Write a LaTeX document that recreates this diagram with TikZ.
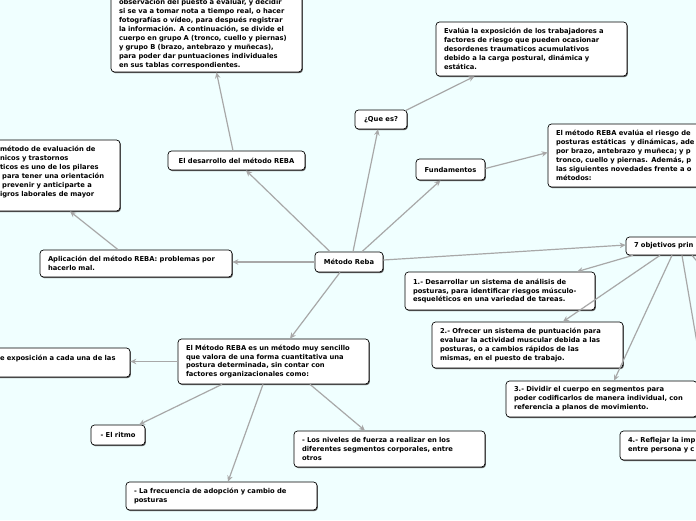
\documentclass[tikz,border=0pt]{standalone}
\usepackage{fontspec}
\setmainfont{DejaVu Sans}
\usetikzlibrary{arrows.meta,shadows}
\definecolor{bgc}{RGB}{240,255,255}
\definecolor{linec}{RGB}{168,168,168}
\newcommand\Lr[1]{\mbox{#1}}
\tikzset{
 box/.style={draw=black, line width=0.7pt, fill=white, rounded corners=3.5pt, inner sep=0pt,
   align=left, font=\fontsize{6.75}{8.9}\selectfont\bfseries,
   drop shadow={shadow xshift=0.9pt, shadow yshift=-1.1pt, fill=black!65, opacity=1}},
 cbox/.style={box, align=center},
 conn/.style={draw=linec, line width=1.2pt, -{Stealth[length=6pt,width=5.5pt]}},
}
\begin{document}
\begin{tikzpicture}[x=1pt,y=-1pt]
\useasboundingbox (0,0) rectangle (696,520);
\clip (0,0) rectangle (696,520);
\fill[bgc] (0,0) rectangle (696,520);

\node[box, minimum width=191pt, minimum height=76pt, text width=175pt] (top) at (206.5,34) {%
\Lr{observación del puesto a evaluar, y decidir}\\
\Lr{si se va a tomar nota a tiempo real, o hacer}\\
\Lr{fotografías o vídeo, para después registrar}\\
\Lr{la información. A continuación, se divide el}\\
\Lr{cuerpo en grupo A (tronco, cuello y piernas)}\\
\Lr{y grupo B (brazo, antebrazo y muñecas),}\\
\Lr{para poder dar puntuaciones individuales}\\
\Lr{en sus tablas correspondientes.}};

\node[box, minimum width=128pt, minimum height=71pt, text width=112pt] (leftb) at (56,175.5) {%
\Lr{método de evaluación de}\\
\Lr{nicos y trastornos}\\
\Lr{ticos es uno de los pilares}\\
\Lr{ para tener una orientación}\\
\Lr{ prevenir y anticiparte a}\\
\Lr{igros laborales de mayor}\\
\Lr{}};

\node[cbox, minimum width=52pt, minimum height=19pt] (que) at (381,119.5) {¿Que es?};

\node[box, minimum width=191pt, minimum height=54pt, text width=175pt] (evalua) at (531.5,49) {%
\Lr{Evalúa la exposición de los trabajadores a}\\
\Lr{factores de riesgo que pueden ocasionar}\\
\Lr{desordenes traumaticos acumulativos}\\
\Lr{debido a la carga postural, dinámica y}\\
\Lr{estática.}};

\node[cbox, minimum width=69pt, minimum height=21pt] (fund) at (450.5,169.5) {Fundamentos};

\node[box, minimum width=212pt, minimum height=63pt, text width=196pt] (rebaev) at (654,155.5) {%
\Lr{El método REBA evalúa el riesgo de}\\
\Lr{posturas estáticas\ \ y dinámicas, ade}\\
\Lr{por brazo, antebrazo y muñeca; y p}\\
\Lr{tronco, cuello y piernas. Además, p}\\
\Lr{las siguientes novedades frente a o}\\
\Lr{métodos:}};

\node[cbox, minimum width=137pt, minimum height=19pt] (desarr) at (236.5,160.5) {El desarrollo del método REBA};

\node[cbox, minimum width=68pt, minimum height=20pt] (reba) at (349,262) {Método Reba};

\node[box, minimum width=192pt, minimum height=27pt, text width=176pt] (aplic) at (136,263.5) {%
\Lr{Aplicación del método REBA: problemas por}\\
\Lr{hacerlo mal.}};

\node[box, minimum width=134pt, minimum height=18pt, text width=118pt] (obj7) at (693,246) {\Lr{7 objetivos prin}};

\node[box, minimum width=190pt, minimum height=38pt, text width=174pt] (o1) at (500,291) {%
\Lr{1.- Desarrollar un sistema de análisis de}\\
\Lr{posturas, para identificar riesgos músculo-}\\
\Lr{esqueléticos en una variedad de tareas.}};

\node[box, minimum width=191pt, minimum height=46pt, text width=175pt] (o2) at (527.5,345) {%
\Lr{2.- Ofrecer un sistema de puntuación para}\\
\Lr{evaluar la actividad muscular debida a las}\\
\Lr{posturas, o a cambios rápidos de las}\\
\Lr{mismas, en el puesto de trabajo.}};

\node[box, minimum width=191pt, minimum height=36pt, text width=175pt] (o3) at (601.5,399) {%
\Lr{3.- Dividir el cuerpo en segmentos para}\\
\Lr{poder codificarlos de manera individual, con}\\
\Lr{referencia a planos de movimiento.}};

\node[box, minimum width=160pt, minimum height=29pt, text width=144pt] (o4) at (700,445.5) {%
\Lr{4.- Reflejar la imp}\\
\Lr{entre persona y c}};

\coordinate (o5) at (760,336);

\node[box, minimum width=191pt, minimum height=45pt, text width=175pt] (mes) at (273.5,361.5) {%
\Lr{El Método REBA es un método muy sencillo}\\
\Lr{que valora de una forma cuantitativa una}\\
\Lr{postura determinada, sin contar con}\\
\Lr{factores organizacionales como:}};

\node[box, minimum width=138pt, minimum height=29pt, text width=122pt] (expo) at (61,362.5) {%
\Lr{e exposición a cada una de las}\\
\Lr{}};

\node[cbox, minimum width=54pt, minimum height=20pt] (ritmo) at (118,435) {- El ritmo};

\node[box, minimum width=191pt, minimum height=36pt, text width=175pt] (niv) at (389.5,449) {%
\Lr{- Los niveles de fuerza a realizar en los}\\
\Lr{diferentes segmentos corporales, entre}\\
\Lr{otros}};

\node[box, minimum width=191pt, minimum height=28pt, text width=175pt] (freq) at (221.5,496) {%
\Lr{- La frecuencia de adopción y cambio de}\\
\Lr{posturas}};

% connectors
\draw[conn] ([xshift=-19pt]reba.north) -- ([xshift=9.5pt]desarr.south);
\draw[conn] ([xshift=-3.5pt]desarr.north) -- ([xshift=10pt]top.south);
\draw[conn] (reba.west) -- (reba.west -| aplic.east);
\draw[conn] ([xshift=-18pt]aplic.north) -- ([xshift=14pt]leftb.south);
\draw[conn] ([xshift=4pt]reba.north) -- ([xshift=-3pt]que.south);
\draw[conn] ([xshift=-2pt,yshift=-1pt]que.north east) -- ([xshift=-57pt]evalua.south);
\draw[conn] ([xshift=13pt]reba.north) -- ([xshift=-10pt]fund.south);
\draw[conn] ([yshift=1pt]fund.east) -- ([yshift=3pt]rebaev.west);
\draw[conn] ([yshift=2pt]reba.east) -- ([yshift=1pt]obj7.west);
\draw[conn] ([xshift=-60pt]obj7.south) -- ([xshift=77pt]o1.north);
\draw[conn] ([xshift=-33pt]obj7.south) -- ([xshift=35.5pt]o2.north);
\draw[conn] ([xshift=-21pt]obj7.south) -- ([xshift=12.5pt]o3.north);
\draw[conn] ([xshift=-11pt]obj7.south) -- ([xshift=12pt]o4.north);
\draw[conn] ([xshift=-1pt]obj7.south) -- (o5);
\draw[conn] ([xshift=-9pt]reba.south) -- ([xshift=16.5pt]mes.north);
\draw[conn] (mes.west) -- (mes.west -| expo.east);
\draw[conn] ([xshift=-51.5pt]mes.south) -- ([xshift=21pt]ritmo.north);
\draw[conn] ([xshift=-10.5pt]mes.south) -- ([xshift=6.5pt]freq.north);
\draw[conn] ([xshift=36.5pt]mes.south) -- ([xshift=-24.5pt]niv.north);
\end{tikzpicture}
\end{document}
